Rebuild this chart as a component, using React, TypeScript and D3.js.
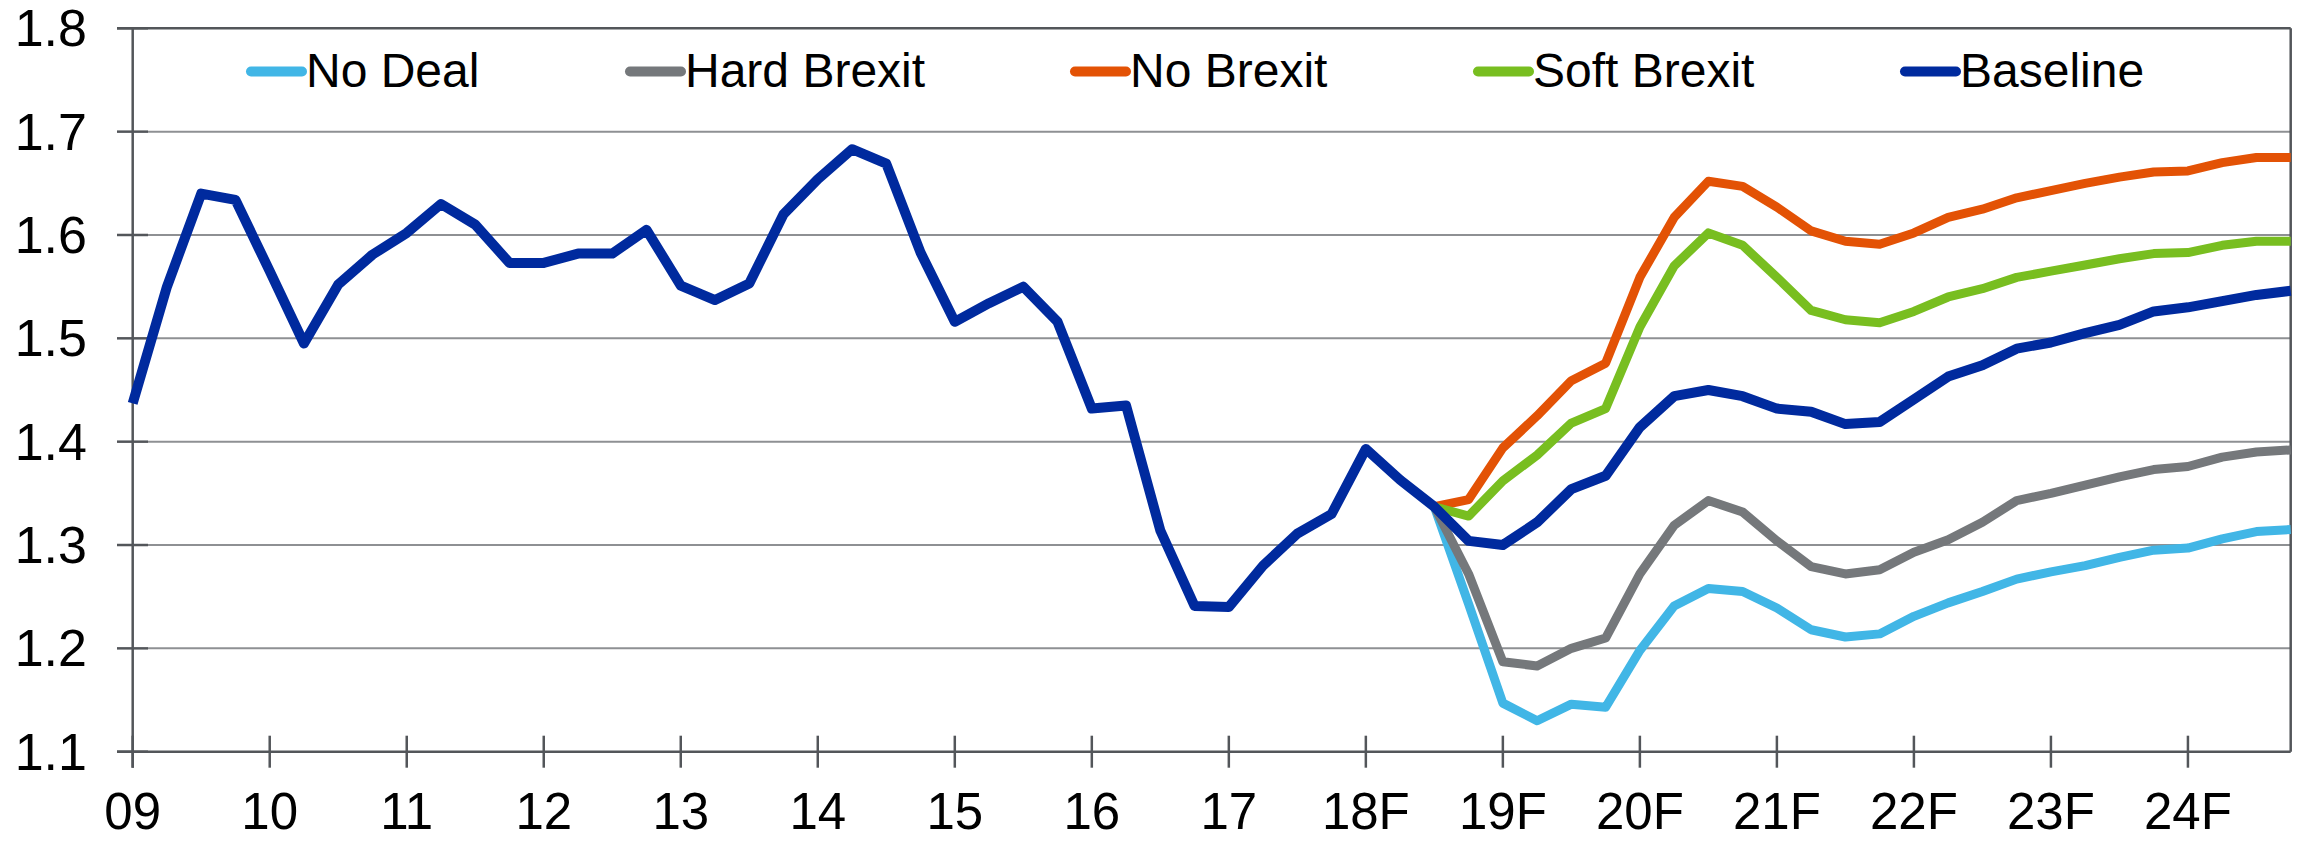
import React from 'react';
import * as d3 from 'd3';

// quarterly, 2009 Q1 .. 2024 Q4 (64 points); scenarios start at 2018 Q3 (index 38)
const yearLabels = ['09', '10', '11', '12', '13', '14', '15', '16', '17', '18F', '19F', '20F', '21F', '22F', '23F', '24F'];
const yTicks = [1.1, 1.2, 1.3, 1.4, 1.5, 1.6, 1.7, 1.8];

const baseline = [
  1.437, 1.550, 1.640, 1.634, 1.565, 1.495, 1.552, 1.581,
  1.602, 1.630, 1.610, 1.573, 1.573, 1.582, 1.582, 1.605,
  1.551, 1.537, 1.553, 1.620, 1.654, 1.683, 1.669, 1.583,
  1.516, 1.534, 1.550, 1.516, 1.432, 1.435, 1.314, 1.241,
  1.240, 1.280, 1.311, 1.330, 1.393, 1.363, 1.337, 1.304,
  1.300, 1.322, 1.354, 1.367, 1.414, 1.444, 1.450, 1.444,
  1.432, 1.429, 1.417, 1.419, 1.441, 1.463, 1.474, 1.490,
  1.496, 1.505, 1.513, 1.526, 1.530, 1.536, 1.542, 1.546,
];
const scenarioStart = 38;
const noBrexit = [
  1.337, 1.344, 1.394, 1.425, 1.459, 1.476, 1.559, 1.617, 1.652, 1.647, 1.627, 1.604, 1.594,
  1.591, 1.602, 1.617, 1.625, 1.636, 1.643, 1.650, 1.656, 1.661, 1.662, 1.670, 1.675, 1.675,
];
const softBrexit = [
  1.337, 1.328, 1.362, 1.387, 1.418, 1.432, 1.511, 1.570, 1.602, 1.590, 1.559, 1.527, 1.518,
  1.515, 1.526, 1.540, 1.548, 1.559, 1.565, 1.571, 1.577, 1.582, 1.583, 1.590, 1.594, 1.594,
];
const hardBrexit = [
  1.337, 1.272, 1.187, 1.183, 1.200, 1.210, 1.272, 1.319, 1.343, 1.332, 1.304, 1.279, 1.272,
  1.276, 1.293, 1.305, 1.322, 1.343, 1.350, 1.358, 1.366, 1.373, 1.376, 1.385, 1.390, 1.392,
];
const noDeal = [
  1.337, 1.243, 1.147, 1.130, 1.146, 1.143, 1.198, 1.241, 1.258, 1.255, 1.239, 1.218, 1.211,
  1.214, 1.231, 1.244, 1.255, 1.267, 1.274, 1.280, 1.288, 1.295, 1.297, 1.306, 1.313, 1.315,
];

const series = [
  { name: 'No Deal', color: '#41B6E6', values: noDeal, start: scenarioStart, width: 9 },
  { name: 'Hard Brexit', color: '#75787B', values: hardBrexit, start: scenarioStart, width: 9 },
  { name: 'No Brexit', color: '#E35205', values: noBrexit, start: scenarioStart, width: 9 },
  { name: 'Soft Brexit', color: '#78BE20', values: softBrexit, start: scenarioStart, width: 9 },
  { name: 'Baseline', color: '#002A9E', values: baseline, start: 0, width: 10 },
];
const legendX = [246, 625, 1070, 1473, 1900];

const W = 2300;
const H = 841;
const left = 132.7;
const right = 2290.7;
const top = 28.3;
const bottom = 751.7;
const font = '"Liberation Sans", Arial, sans-serif';

const App: React.FC = () => {
  const x = d3.scaleLinear().domain([0, 63]).range([left, right]);
  const y = d3.scaleLinear().domain([1.1, 1.8]).range([bottom, top]);
  const axisColor = '#53565A';

  return (
    <svg width={W} height={H} style={{ position: 'absolute', left: 0, top: 0, background: '#fff' }}>
      {/* gridlines */}
      {yTicks.slice(1, -1).map((t) => (
        <line key={'g' + t} x1={left + 15} x2={right} y1={y(t)} y2={y(t)} stroke="#8E9093" strokeWidth={2} />
      ))}
      {/* frame top + right */}
      <line x1={117} x2={right} y1={top} y2={top} stroke={axisColor} strokeWidth={2.5} />
      <line x1={right} x2={right} y1={top} y2={bottom} stroke={axisColor} strokeWidth={2.5} />
      {/* y axis */}
      <line x1={left} x2={left} y1={top} y2={bottom + 16} stroke={axisColor} strokeWidth={2.5} />
      {yTicks.map((t) => (
        <g key={'y' + t}>
          <line x1={117} x2={148} y1={y(t)} y2={y(t)} stroke={axisColor} strokeWidth={2.5} />
          <text x={87} y={y(t)} textAnchor="end" dominantBaseline="central" fontFamily={font} fontSize={52} fill="#000">
            {t.toFixed(1)}
          </text>
        </g>
      ))}
      {/* x axis */}
      <line x1={117} x2={right} y1={bottom} y2={bottom} stroke={axisColor} strokeWidth={2.5} />
      {yearLabels.map((lab, k) => (
        <g key={lab}>
          <line x1={x(k * 4)} x2={x(k * 4)} y1={bottom - 16} y2={bottom + 16} stroke={axisColor} strokeWidth={2.5} />
          <text x={x(k * 4)} y={829} textAnchor="middle" fontFamily={font} fontSize={51} fill="#000">
            {lab}
          </text>
        </g>
      ))}
      {/* lines */}
      {series.map((s) => {
        const line = d3
          .line<number>()
          .x((_, i) => x(s.start + i))
          .y((d) => y(d));
        return (
          <path
            key={s.name}
            d={line(s.values) || ''}
            fill="none"
            stroke={s.color}
            strokeWidth={s.width}
            strokeLinejoin="round"
            strokeLinecap="butt"
          />
        );
      })}
      {/* legend */}
      {series.map((s, i) => (
        <g key={'l' + s.name}>
          <line x1={legendX[i] + 5} x2={legendX[i] + 56} y1={71.5} y2={71.5} stroke={s.color} strokeWidth={10} strokeLinecap="round" />
          <text x={legendX[i] + 60} y={87} fontFamily={font} fontSize={48} fill="#000">
            {s.name}
          </text>
        </g>
      ))}
    </svg>
  );
};

export default App;
